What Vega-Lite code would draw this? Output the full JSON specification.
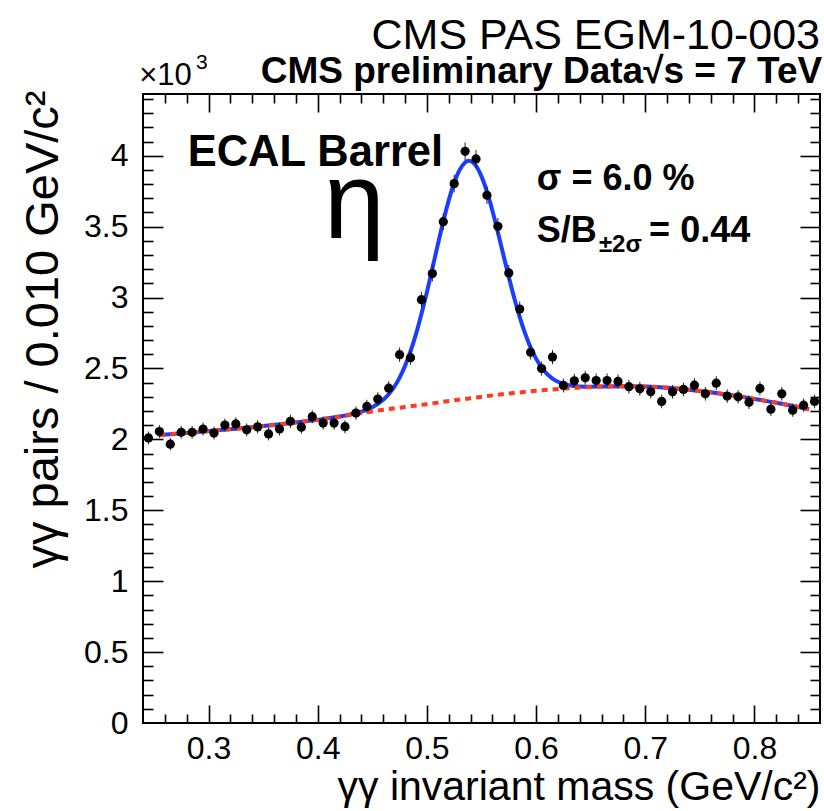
{
  "$schema": "https://vega.github.io/schema/vega-lite/v6.json",
  "width": 677,
  "height": 629,
  "autosize": {"type": "none"},
  "padding": {"left": 143, "top": 94, "right": 4, "bottom": 88},
  "background": "white",
  "config": {
    "view": {"stroke": "black", "strokeWidth": 2},
    "font": "Liberation Sans",
    "axis": {
      "grid": false,
      "domain": false,
      "labelFont": "Liberation Sans",
      "titleFont": "Liberation Sans",
      "labelColor": "black",
      "titleColor": "black",
      "tickColor": "black",
      "tickWidth": 1.6,
      "titleFontWeight": "normal",
      "labelFontSize": 32,
      "titleFontSize": 41
    }
  },
  "datasets": {
    "pairs": [
      {"m": 0.245, "n": 2010, "lo": 1965, "hi": 2055},
      {"m": 0.255, "n": 2055, "lo": 2010, "hi": 2100},
      {"m": 0.265, "n": 1966, "lo": 1922, "hi": 2010},
      {"m": 0.275, "n": 2050, "lo": 2005, "hi": 2095},
      {"m": 0.285, "n": 2050, "lo": 2005, "hi": 2095},
      {"m": 0.295, "n": 2073, "lo": 2027, "hi": 2119},
      {"m": 0.305, "n": 2044, "lo": 1999, "hi": 2089},
      {"m": 0.315, "n": 2101, "lo": 2055, "hi": 2147},
      {"m": 0.325, "n": 2109, "lo": 2063, "hi": 2155},
      {"m": 0.335, "n": 2067, "lo": 2022, "hi": 2112},
      {"m": 0.345, "n": 2088, "lo": 2042, "hi": 2134},
      {"m": 0.355, "n": 2038, "lo": 1993, "hi": 2083},
      {"m": 0.365, "n": 2073, "lo": 2027, "hi": 2119},
      {"m": 0.375, "n": 2127, "lo": 2081, "hi": 2173},
      {"m": 0.385, "n": 2086, "lo": 2040, "hi": 2132},
      {"m": 0.395, "n": 2160, "lo": 2114, "hi": 2206},
      {"m": 0.405, "n": 2115, "lo": 2069, "hi": 2161},
      {"m": 0.415, "n": 2115, "lo": 2069, "hi": 2161},
      {"m": 0.425, "n": 2089, "lo": 2043, "hi": 2135},
      {"m": 0.435, "n": 2185, "lo": 2138, "hi": 2232},
      {"m": 0.445, "n": 2232, "lo": 2185, "hi": 2279},
      {"m": 0.455, "n": 2284, "lo": 2236, "hi": 2332},
      {"m": 0.465, "n": 2361, "lo": 2312, "hi": 2410},
      {"m": 0.475, "n": 2597, "lo": 2546, "hi": 2648},
      {"m": 0.485, "n": 2576, "lo": 2525, "hi": 2627},
      {"m": 0.495, "n": 2985, "lo": 2930, "hi": 3040},
      {"m": 0.505, "n": 3169, "lo": 3113, "hi": 3225},
      {"m": 0.515, "n": 3535, "lo": 3476, "hi": 3594},
      {"m": 0.525, "n": 3803, "lo": 3741, "hi": 3865},
      {"m": 0.535, "n": 4031, "lo": 3968, "hi": 4094},
      {"m": 0.545, "n": 3977, "lo": 3914, "hi": 4040},
      {"m": 0.555, "n": 3721, "lo": 3660, "hi": 3782},
      {"m": 0.565, "n": 3502, "lo": 3443, "hi": 3561},
      {"m": 0.575, "n": 3173, "lo": 3117, "hi": 3229},
      {"m": 0.585, "n": 2919, "lo": 2865, "hi": 2973},
      {"m": 0.595, "n": 2614, "lo": 2563, "hi": 2665},
      {"m": 0.605, "n": 2499, "lo": 2449, "hi": 2549},
      {"m": 0.615, "n": 2580, "lo": 2529, "hi": 2631},
      {"m": 0.625, "n": 2380, "lo": 2331, "hi": 2429},
      {"m": 0.635, "n": 2413, "lo": 2364, "hi": 2462},
      {"m": 0.645, "n": 2434, "lo": 2385, "hi": 2483},
      {"m": 0.655, "n": 2415, "lo": 2366, "hi": 2464},
      {"m": 0.665, "n": 2415, "lo": 2366, "hi": 2464},
      {"m": 0.675, "n": 2408, "lo": 2359, "hi": 2457},
      {"m": 0.685, "n": 2371, "lo": 2322, "hi": 2420},
      {"m": 0.695, "n": 2356, "lo": 2307, "hi": 2405},
      {"m": 0.705, "n": 2335, "lo": 2287, "hi": 2383},
      {"m": 0.715, "n": 2267, "lo": 2219, "hi": 2315},
      {"m": 0.725, "n": 2335, "lo": 2287, "hi": 2383},
      {"m": 0.735, "n": 2352, "lo": 2304, "hi": 2400},
      {"m": 0.745, "n": 2382, "lo": 2333, "hi": 2431},
      {"m": 0.755, "n": 2321, "lo": 2273, "hi": 2369},
      {"m": 0.765, "n": 2396, "lo": 2347, "hi": 2445},
      {"m": 0.775, "n": 2305, "lo": 2257, "hi": 2353},
      {"m": 0.785, "n": 2300, "lo": 2252, "hi": 2348},
      {"m": 0.795, "n": 2262, "lo": 2214, "hi": 2310},
      {"m": 0.805, "n": 2359, "lo": 2310, "hi": 2408},
      {"m": 0.815, "n": 2213, "lo": 2166, "hi": 2260},
      {"m": 0.825, "n": 2321, "lo": 2273, "hi": 2369},
      {"m": 0.835, "n": 2206, "lo": 2159, "hi": 2253},
      {"m": 0.845, "n": 2241, "lo": 2194, "hi": 2288},
      {"m": 0.855, "n": 2267, "lo": 2219, "hi": 2315}
    ],
    "fit": [
      {"m": 0.255, "n": 2030}, {"m": 0.28, "n": 2045}, {"m": 0.31, "n": 2065},
      {"m": 0.34, "n": 2086}, {"m": 0.37, "n": 2110}, {"m": 0.40, "n": 2138},
      {"m": 0.42, "n": 2161}, {"m": 0.43, "n": 2176}, {"m": 0.44, "n": 2196},
      {"m": 0.45, "n": 2227}, {"m": 0.46, "n": 2279}, {"m": 0.465, "n": 2318},
      {"m": 0.47, "n": 2369}, {"m": 0.475, "n": 2435}, {"m": 0.48, "n": 2519},
      {"m": 0.485, "n": 2621}, {"m": 0.49, "n": 2742}, {"m": 0.495, "n": 2883},
      {"m": 0.50, "n": 3038}, {"m": 0.505, "n": 3205}, {"m": 0.51, "n": 3373},
      {"m": 0.515, "n": 3536}, {"m": 0.52, "n": 3685}, {"m": 0.525, "n": 3809},
      {"m": 0.53, "n": 3900}, {"m": 0.535, "n": 3952}, {"m": 0.538, "n": 3964},
      {"m": 0.54, "n": 3962}, {"m": 0.545, "n": 3928}, {"m": 0.55, "n": 3854},
      {"m": 0.555, "n": 3746}, {"m": 0.56, "n": 3612}, {"m": 0.565, "n": 3460},
      {"m": 0.57, "n": 3301}, {"m": 0.575, "n": 3145}, {"m": 0.58, "n": 2996},
      {"m": 0.585, "n": 2862}, {"m": 0.59, "n": 2745}, {"m": 0.595, "n": 2647},
      {"m": 0.60, "n": 2569}, {"m": 0.605, "n": 2507}, {"m": 0.61, "n": 2461},
      {"m": 0.615, "n": 2429}, {"m": 0.62, "n": 2406}, {"m": 0.625, "n": 2391},
      {"m": 0.63, "n": 2381}, {"m": 0.635, "n": 2376}, {"m": 0.64, "n": 2373},
      {"m": 0.65, "n": 2371}, {"m": 0.66, "n": 2373}, {"m": 0.68, "n": 2375},
      {"m": 0.70, "n": 2372}, {"m": 0.72, "n": 2364}, {"m": 0.74, "n": 2350},
      {"m": 0.76, "n": 2332}, {"m": 0.78, "n": 2310}, {"m": 0.80, "n": 2285},
      {"m": 0.82, "n": 2258}, {"m": 0.84, "n": 2228}, {"m": 0.85, "n": 2212}
    ],
    "bkg": [
      {"m": 0.255, "n": 2030}, {"m": 0.28, "n": 2045}, {"m": 0.31, "n": 2065},
      {"m": 0.34, "n": 2086}, {"m": 0.37, "n": 2110}, {"m": 0.40, "n": 2138},
      {"m": 0.42, "n": 2160}, {"m": 0.44, "n": 2185}, {"m": 0.46, "n": 2208},
      {"m": 0.48, "n": 2228}, {"m": 0.50, "n": 2248}, {"m": 0.52, "n": 2270},
      {"m": 0.54, "n": 2290}, {"m": 0.56, "n": 2310}, {"m": 0.58, "n": 2327},
      {"m": 0.60, "n": 2342}, {"m": 0.62, "n": 2355}, {"m": 0.64, "n": 2365},
      {"m": 0.66, "n": 2372}, {"m": 0.68, "n": 2375}, {"m": 0.70, "n": 2372},
      {"m": 0.72, "n": 2364}, {"m": 0.74, "n": 2350}, {"m": 0.76, "n": 2332},
      {"m": 0.78, "n": 2310}, {"m": 0.80, "n": 2285}, {"m": 0.82, "n": 2258},
      {"m": 0.84, "n": 2228}, {"m": 0.85, "n": 2212}
    ]
  },
  "resolve": {"axis": {"x": "independent", "y": "independent"}},
  "layer": [
    {
      "data": {"name": "fit"},
      "mark": {"type": "line", "color": "#1a3dff", "strokeWidth": 4, "interpolate": "monotone"},
      "encoding": {
        "x": {
          "field": "m", "type": "quantitative",
          "scale": {"domain": [0.24, 0.86], "nice": false, "zero": false},
          "axis": {"orient": "bottom", "labels": false, "title": null, "tickSize": -9,
                   "values": [0.26, 0.28, 0.32, 0.34, 0.36, 0.38, 0.42, 0.44, 0.46, 0.48, 0.52, 0.54, 0.56, 0.58, 0.62, 0.64, 0.66, 0.68, 0.72, 0.74, 0.76, 0.78, 0.82, 0.84]}
        },
        "y": {
          "field": "n", "type": "quantitative",
          "scale": {"domain": [0, 4435], "nice": false},
          "axis": {"orient": "left", "labels": false, "title": null, "tickSize": -10,
                   "values": [100, 200, 300, 400, 600, 700, 800, 900, 1100, 1200, 1300, 1400, 1600, 1700, 1800, 1900, 2100, 2200, 2300, 2400, 2600, 2700, 2800, 2900, 3100, 3200, 3300, 3400, 3600, 3700, 3800, 3900, 4100, 4200, 4300, 4400]}
        }
      }
    },
    {
      "data": {"name": "bkg"},
      "mark": {"type": "line", "color": "#ff3a1e", "strokeWidth": 4, "strokeDash": [6, 5], "interpolate": "monotone"},
      "encoding": {
        "x": {
          "field": "m", "type": "quantitative",
          "scale": {"domain": [0.24, 0.86], "nice": false, "zero": false},
          "axis": {"orient": "top", "labels": false, "title": null, "tickSize": -18,
                   "values": [0.3, 0.4, 0.5, 0.6, 0.7, 0.8]}
        },
        "y": {
          "field": "n", "type": "quantitative",
          "scale": {"domain": [0, 4435], "nice": false},
          "axis": {"orient": "right", "labels": false, "title": null, "tickSize": -20,
                   "values": [500, 1000, 1500, 2000, 2500, 3000, 3500, 4000]}
        }
      }
    },
    {
      "data": {"name": "pairs"},
      "mark": {"type": "rule", "color": "#222222", "strokeWidth": 1},
      "encoding": {
        "x": {
          "field": "m", "type": "quantitative",
          "scale": {"domain": [0.24, 0.86], "nice": false, "zero": false},
          "axis": {"orient": "top", "labels": false, "title": null, "tickSize": -9,
                   "values": [0.26, 0.28, 0.32, 0.34, 0.36, 0.38, 0.42, 0.44, 0.46, 0.48, 0.52, 0.54, 0.56, 0.58, 0.62, 0.64, 0.66, 0.68, 0.72, 0.74, 0.76, 0.78, 0.82, 0.84]}
        },
        "y": {
          "field": "lo", "type": "quantitative",
          "scale": {"domain": [0, 4435], "nice": false},
          "axis": {"orient": "right", "labels": false, "title": null, "tickSize": -10,
                   "values": [100, 200, 300, 400, 600, 700, 800, 900, 1100, 1200, 1300, 1400, 1600, 1700, 1800, 1900, 2100, 2200, 2300, 2400, 2600, 2700, 2800, 2900, 3100, 3200, 3300, 3400, 3600, 3700, 3800, 3900, 4100, 4200, 4300, 4400]}
        },
        "y2": {"field": "hi"}
      }
    },
    {
      "data": {"name": "pairs"},
      "mark": {"type": "point", "filled": true, "shape": "circle", "size": 85, "color": "black", "opacity": 1},
      "encoding": {
        "x": {
          "field": "m", "type": "quantitative",
          "scale": {"domain": [0.24, 0.86], "nice": false, "zero": false},
          "axis": {"orient": "bottom", "ticks": false, "values": [0.3, 0.4, 0.5, 0.6, 0.7, 0.8], "format": ".1f",
                   "labelPadding": 10,
                   "title": "γγ invariant mass (GeV/c²)",
                   "titleX": 677, "titleY": 76, "titleAlign": "right", "titleBaseline": "alphabetic"}
        },
        "y": {
          "field": "n", "type": "quantitative",
          "scale": {"domain": [0, 4435], "nice": false},
          "axis": {"orient": "left", "ticks": false, "values": [0, 500, 1000, 1500, 2000, 2500, 3000, 3500, 4000],
                   "labelExpr": "format(datum.value / 1000, '~g')",
                   "labelPadding": 15,
                   "title": "γγ pairs / 0.010 GeV/c²",
                   "titleFontSize": 47,
                   "titleAngle": 270, "titleX": -86, "titleY": -4, "titleAlign": "right", "titleBaseline": "alphabetic"}
        }
      }
    },
    {
      "data": {"values": [{}]},
      "mark": {"type": "text", "text": "CMS PAS EGM-10-003", "fontSize": 43, "align": "right", "baseline": "alphabetic", "color": "black"},
      "encoding": {
        "x": {"datum": 0.86, "type": "quantitative", "scale": {"domain": [0.24, 0.86], "nice": false, "zero": false},
              "axis": {"orient": "bottom", "labels": false, "title": null, "tickSize": -18, "values": [0.3, 0.4, 0.5, 0.6, 0.7, 0.8]}},
        "y": {"datum": 4755, "type": "quantitative", "scale": {"domain": [0, 4435], "nice": false},
              "axis": {"orient": "left", "labels": false, "title": null, "tickSize": -20, "values": [500, 1000, 1500, 2000, 2500, 3000, 3500, 4000]}}
      }
    },
    {
      "data": {"values": [{}]},
      "mark": {"type": "text", "text": "CMS preliminary Data√s = 7 TeV", "fontSize": 37, "fontWeight": "bold", "align": "right", "baseline": "alphabetic", "color": "black"},
      "encoding": {
        "x": {"datum": 0.862, "type": "quantitative", "axis": null},
        "y": {"datum": 4515, "type": "quantitative", "axis": null}
      }
    },
    {
      "data": {"values": [{}]},
      "mark": {"type": "text", "text": "×10", "fontSize": 31, "align": "left", "baseline": "alphabetic", "color": "black"},
      "encoding": {
        "x": {"datum": 0.2365, "type": "quantitative", "axis": null},
        "y": {"datum": 4495, "type": "quantitative", "axis": null}
      }
    },
    {
      "data": {"values": [{}]},
      "mark": {"type": "text", "text": "3", "fontSize": 21, "align": "left", "baseline": "alphabetic", "color": "black"},
      "encoding": {
        "x": {"datum": 0.2885, "type": "quantitative", "axis": null},
        "y": {"datum": 4610, "type": "quantitative", "axis": null}
      }
    },
    {
      "data": {"values": [{}]},
      "mark": {"type": "text", "text": "ECAL Barrel", "fontSize": 43.5, "fontWeight": "bold", "align": "left", "baseline": "alphabetic", "color": "black"},
      "encoding": {
        "x": {"datum": 0.2809, "type": "quantitative", "axis": null},
        "y": {"datum": 3930, "type": "quantitative", "axis": null}
      }
    },
    {
      "data": {"values": [{}]},
      "mark": {"type": "text", "text": "η", "fontSize": 110, "align": "center", "baseline": "alphabetic", "color": "black"},
      "encoding": {
        "x": {"datum": 0.4335, "type": "quantitative", "axis": null},
        "y": {"datum": 3420, "type": "quantitative", "axis": null}
      }
    },
    {
      "data": {"values": [{}]},
      "mark": {"type": "text", "text": "σ = 6.0 %", "fontSize": 36, "fontWeight": "bold", "align": "left", "baseline": "alphabetic", "color": "black"},
      "encoding": {
        "x": {"datum": 0.6007, "type": "quantitative", "axis": null},
        "y": {"datum": 3760, "type": "quantitative", "axis": null}
      }
    },
    {
      "data": {"values": [{}]},
      "mark": {"type": "text", "text": "S/B", "fontSize": 36, "fontWeight": "bold", "align": "left", "baseline": "alphabetic", "color": "black"},
      "encoding": {
        "x": {"datum": 0.6007, "type": "quantitative", "axis": null},
        "y": {"datum": 3394, "type": "quantitative", "axis": null}
      }
    },
    {
      "data": {"values": [{}]},
      "mark": {"type": "text", "text": "±2σ", "fontSize": 24, "fontWeight": "bold", "align": "left", "baseline": "alphabetic", "color": "black"},
      "encoding": {
        "x": {"datum": 0.6575, "type": "quantitative", "axis": null},
        "y": {"datum": 3318, "type": "quantitative", "axis": null}
      }
    },
    {
      "data": {"values": [{}]},
      "mark": {"type": "text", "text": "= 0.44", "fontSize": 36, "fontWeight": "bold", "align": "left", "baseline": "alphabetic", "color": "black"},
      "encoding": {
        "x": {"datum": 0.7035, "type": "quantitative", "axis": null},
        "y": {"datum": 3394, "type": "quantitative", "axis": null}
      }
    }
  ]
}
